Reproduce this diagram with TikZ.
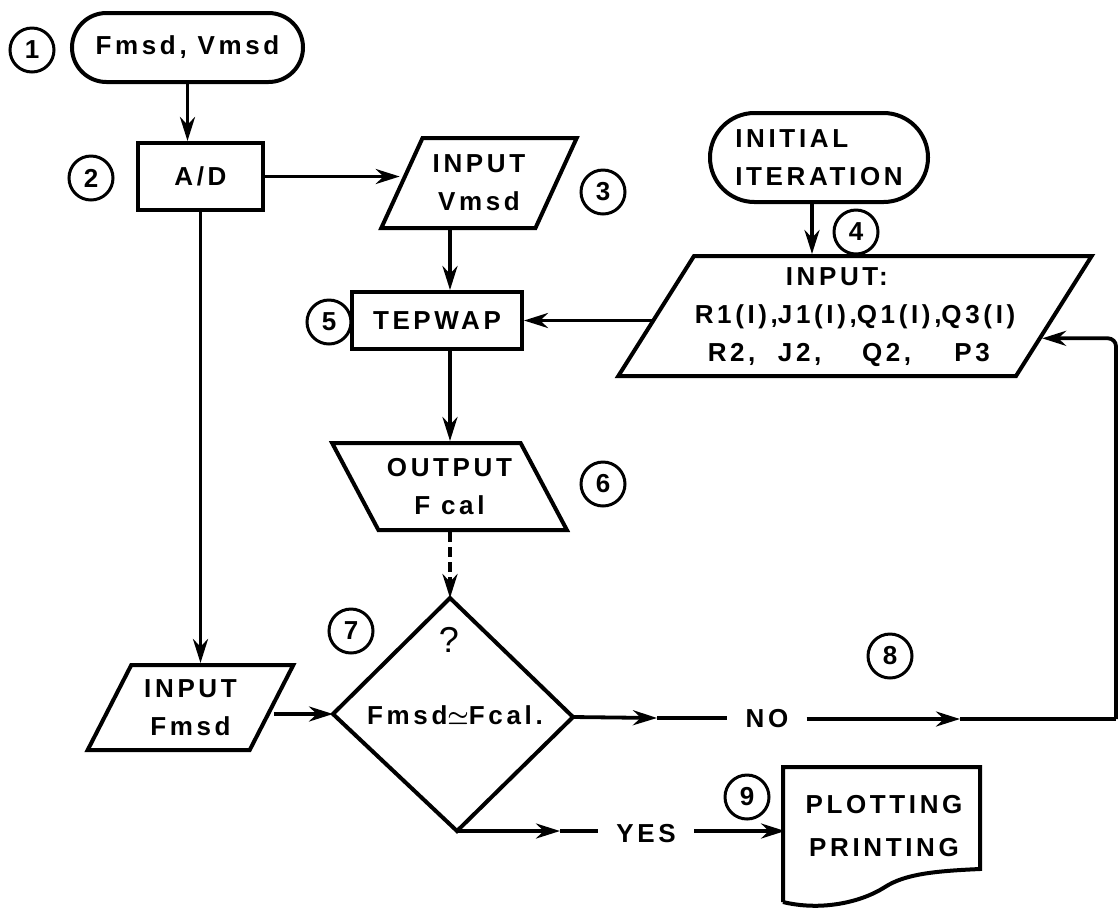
\documentclass[tikz,border=0pt]{standalone}
\usepackage{fontspec}
\setmainfont{Liberation Sans}[LetterSpace=14]
\usetikzlibrary{shapes.geometric,shapes.misc,calc,positioning,arrows.meta}
\begin{document}
\begin{tikzpicture}[x=0.5pt,y=-0.5pt,>={Stealth[length=12pt,width=7.5pt]},
every node/.style={font=\bfseries\fontsize{13}{19}\selectfont},
num/.style={draw,circle,line width=1.5pt,minimum size=22pt,inner sep=0pt},
term/.style={draw,rounded rectangle,line width=2pt,inner sep=0pt},
proc/.style={draw,rectangle,line width=2pt,inner sep=0pt},
iobox/.style={draw,trapezium,trapezium left angle=60,trapezium right angle=120,trapezium stretches=true,line width=2pt,inner sep=0pt,align=center},
link/.style={line width=1.9pt},
answer/.style={inner xsep=9pt,inner ysep=0pt},]
\useasboundingbox (0,0) rectangle (1119,912);
\node (c1) at (32,50)[num] {1};
\node (t1) at (187.5,47.5)[term,minimum width=115.5pt,minimum height=34.5pt] {Fmsd, Vmsd};
\node (c2) at (91,178)[num] {2};
\node (ad) at (200.5,176.5)[proc,minimum width=62.5pt,minimum height=33.5pt] {A/D};
\node (inv) at (479,183)[iobox,trapezium left angle=62,trapezium right angle=118,minimum width=98pt,minimum height=45pt] {\makebox[40pt][c]{INPUT}\\Vmsd};
\node (c3) at (603,192)[num] {3};
\node (init) at (819,157.5)[term,minimum width=109pt,minimum height=44.5pt,align=left] {INITIAL\\ITERATION};
\node (c4) at (856,232)[num] {4};
\node (par) at (855,316)[iobox,minimum width=237pt,minimum height=60pt] {\makebox[140pt][c]{\begin{tabular}{@{}l@{}l@{}l@{}l@{}}
\multicolumn{4}{@{\hspace{3.5em}}l@{}}{INPUT:}\\
R1(I), & J1(I), & Q1(I), & Q3(I)\\
\hspace{0.5em}R2, & J2, & \hspace{0.2em}Q2, & \hspace{0.5em}P3
\end{tabular}}};
\node (c5) at (329,322)[num] {5};
\node (tep) at (437,320.5)[proc,minimum width=85pt,minimum height=28.5pt] {TEPWAP};
\node (outp) at (449.5,486.5)[iobox,trapezium left angle=120,trapezium right angle=60,minimum width=117.5pt,minimum height=43.5pt] {\makebox[50pt][c]{OUTPUT}\\F cal};
\node (c6) at (603,484)[num] {6};
\coordinate (dT) at (450,598);
\coordinate (dL) at (333,714);
\coordinate (dR) at (573,717);
\coordinate (dB) at (457,831);
\draw[line width=2pt] (dT) -- (dR) -- (dB) -- (dL) -- cycle;
\node (q) at (449,640)[font=\fontsize{18}{18}\selectfont] {?};
\node (cmp) at (455,715) {Fmsd{\boldmath$\simeq$}Fcal.};
\node (c7) at (351,631)[num] {7};
\node (fmsd) at (190.5,707.5)[iobox,minimum width=103.5pt,minimum height=42.5pt] {\makebox[44pt][c]{INPUT}\\Fmsd};
\node (c8) at (890,656)[num] {8};
\node (no) at (767,719)[answer] {NO};
\node (c9) at (747,797)[num] {9};
\node (yes) at (646,834)[answer] {YES};
\node (plot) at (884,826.5)[minimum width=98.5pt,inner sep=0pt,align=center] {PLOTTING\\[2.5pt]PRINTING};
\draw[line width=2pt] (783,902) -- (783,767) -- (980,767) -- (980,869) .. controls (935,871) and (905,874) .. (885,887) .. controls (860,903) and (820,911) .. (783,902);
\coordinate (a1) at (657,718);
\coordinate (a2) at (960,719);
\coordinate (a3) at (560,831);
\coordinate (rt) at (1116,719);
\coordinate (fbin) at ($(par.bottom right corner)!0.32!(par.top right corner)$);
\draw[link,->] (t1.south) -- (t1.south |- ad.north);
\draw[link,->] (ad.east) -- (ad.east -| inv.west);
\draw[link,->] (inv.south -| dT) -- (tep.north -| dT);
\draw[link,->] (tep.south -| dT) -- (outp.north -| dT);
\draw[link,->,dash pattern=on 5pt off 2.5pt] (outp.south -| dT) -- (dT);
\draw[link,->] ($(init.south)+(-7,0)$) -- ($(init.south |- par.north)+(-7,0)$);
\draw[link,<-] (tep.east) -- (tep.east -| par.left side);
\draw[link,->] (ad.south) -- (ad.south |- fmsd.north);
\draw[link,->] (fmsd.right side |- dL) -- (dL);
\draw[link,->] (dR) -- (a1);
\draw[link] (a1) -- (no.west |- a1);
\draw[link,->] (no.east) -- (a2);
\draw[link] (a2) -- (rt);
\draw[link,->,rounded corners=4pt] (rt) -- (rt |- fbin) -- (fbin);
\draw[link,->] (dB) -- (a3);
\draw[link] (a3) -- (yes.west |- dB);
\draw[link,->] (yes.east |- dB) -- (plot.west |- dB);
\end{tikzpicture}
\end{document}
